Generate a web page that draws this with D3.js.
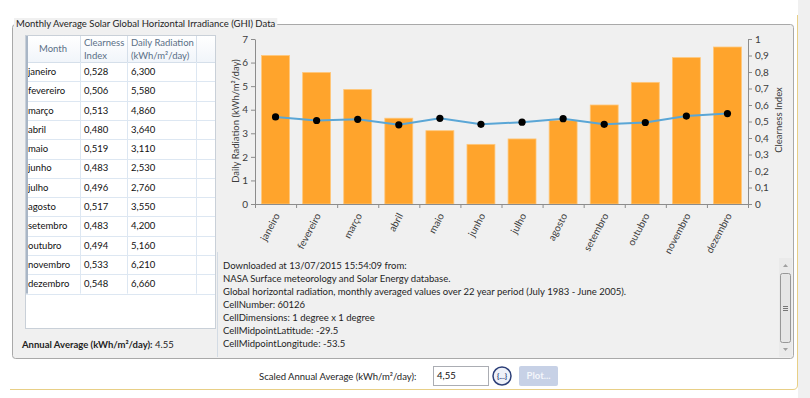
<!DOCTYPE html>
<html>
<head>
<meta charset="utf-8">
<script src="https://cdn.jsdelivr.net/npm/d3@7"></script>
<style>
  body { margin: 0; background: #ffffff; }
  svg { display: block; }
  text { font-family: Lato, "Noto Sans", sans-serif; }
</style>
</head>
<body>
<svg id="c" width="810" height="398"></svg>
<script>
// ---------- data ----------
const months = ["janeiro","fevereiro","março","abril","maio","junho","julho","agosto","setembro","outubro","novembro","dezembro"];
const clearness = [0.528,0.506,0.513,0.480,0.519,0.483,0.496,0.517,0.483,0.494,0.533,0.548];
const radiation = [6.300,5.580,4.860,3.640,3.110,2.530,2.760,3.550,4.200,5.160,6.210,6.660];
const leftTicks = [0,1,2,3,4,5,6,7];
const rightTicks = [0,0.1,0.2,0.3,0.4,0.5,0.6,0.7,0.8,0.9,1];
const infoLines = [
  "Downloaded at 13/07/2015 15:54:09 from:",
  "NASA Surface meteorology and Solar Energy database.",
  "Global horizontal radiation, monthly averaged values over 22 year period (July 1983 - June 2005).",
  "CellNumber: 60126",
  "CellDimensions: 1 degree x 1 degree",
  "CellMidpointLatitude: -29.5",
  "CellMidpointLongitude: -53.5"
];
const annualAverage = 4.55;
const titleText = "Monthly Average Solar Global Horizontal Irradiance (GHI) Data";

const FS = 9.5;
const loc = d3.formatLocale({decimal: ",", thousands: ".", grouping: [3], currency: ["", ""]});
const f3 = loc.format(".3f");
const f1 = loc.format(".1~f");

const svg = d3.select("#c");

// ---------- window frame ----------
svg.append("rect").attr("x", 798).attr("y", 0).attr("width", 12).attr("height", 398).attr("fill", "#f0f0f0");
svg.append("path")
  .attr("d", "M797.5,15 V385 Q797.5,389.5 793,389.5 H10")
  .attr("fill", "none").attr("stroke", "#e8cf86").attr("stroke-width", 1);

// group box
svg.append("rect").attr("x", 12.5).attr("y", 24.5).attr("width", 781).attr("height", 334)
  .attr("rx", 3).attr("fill", "#f0f0f0").attr("stroke", "#a9a9a9");
const title = svg.append("text").attr("x", 16).attr("y", 24).attr("dy", "0.35em")
  .attr("font-size", FS).attr("fill", "#1e1e1e").text(titleText);
const tw = title.node().getComputedTextLength();
svg.insert("rect", "text").attr("x", 14).attr("y", 18).attr("width", tw + 4).attr("height", 12).attr("fill", "#f0f0f0");

// ---------- table ----------
const hdrH = 26, rowH = 19.3;
const colX = [26, 80, 127, 196, 215];
svg.append("rect").attr("x", 25.5).attr("y", 35.5).attr("width", 190).attr("height", 293)
  .attr("fill", "#ffffff").attr("stroke", "#c9d0d8");
const hdrGrad = svg.append("defs").append("linearGradient").attr("id", "hg").attr("x1", 0).attr("x2", 0).attr("y1", 0).attr("y2", 1);
hdrGrad.append("stop").attr("offset", "0").attr("stop-color", "#ffffff");
hdrGrad.append("stop").attr("offset", "1").attr("stop-color", "#f1f5fa");
svg.append("rect").attr("x", 26).attr("y", 36).attr("width", 189).attr("height", hdrH).attr("fill", "url(#hg)");
svg.append("line").attr("x1", 26).attr("x2", 215).attr("y1", 62.5).attr("y2", 62.5).attr("stroke", "#d5dfea");
colX.slice(1, 4).forEach(cx => {
  svg.append("line").attr("x1", cx + 0.5).attr("x2", cx + 0.5).attr("y1", 36).attr("y2", 62)
    .attr("stroke", "#d5dfea");
});
const hdrColor = "#5a6f86";
svg.append("text").attr("x", 53).attr("y", 49).attr("dy", "0.35em").attr("text-anchor", "middle")
  .attr("font-size", FS).attr("fill", hdrColor).text("Month");
svg.append("text").attr("x", 84).attr("y", 43).attr("dy", "0.35em").attr("font-size", FS).attr("fill", hdrColor).text("Clearness");
svg.append("text").attr("x", 84).attr("y", 56).attr("dy", "0.35em").attr("font-size", FS).attr("fill", hdrColor).text("Index");
svg.append("text").attr("x", 131).attr("y", 43).attr("dy", "0.35em").attr("font-size", FS).attr("fill", hdrColor).text("Daily Radiation");
svg.append("text").attr("x", 131).attr("y", 56).attr("dy", "0.35em").attr("font-size", FS).attr("fill", hdrColor).text("(kWh/m²/day)");

const rows = svg.append("g");
months.forEach((m, i) => {
  const y0 = 62 + i * rowH;
  rows.append("line").attr("x1", 26).attr("x2", 215).attr("y1", Math.round(y0 + rowH) + 0.5).attr("y2", Math.round(y0 + rowH) + 0.5)
    .attr("stroke", "#dde7f2");
  rows.append("text").attr("x", 28).attr("y", y0 + rowH / 2).attr("dy", "0.35em").attr("font-size", FS).attr("fill", "#111").text(m);
  rows.append("text").attr("x", 84).attr("y", y0 + rowH / 2).attr("dy", "0.35em").attr("font-size", FS).attr("fill", "#111").text(f3(clearness[i]));
  rows.append("text").attr("x", 131).attr("y", y0 + rowH / 2).attr("dy", "0.35em").attr("font-size", FS).attr("fill", "#111").text(f3(radiation[i]));
});
const tableBottom = 62 + months.length * rowH;
colX.slice(1, 4).forEach(cx => {
  svg.append("line").attr("x1", cx + 0.5).attr("x2", cx + 0.5).attr("y1", 62).attr("y2", tableBottom)
    .attr("stroke", "#dde7f2");
});
svg.append("rect").attr("x", 26).attr("y", 36).attr("width", 2).attr("height", tableBottom - 36).attr("fill", "#a9b6c6");

const ann = svg.append("text").attr("x", 22).attr("y", 345).attr("dy", "0.35em").attr("font-size", FS).attr("fill", "#1e1e1e");
ann.append("tspan").attr("font-weight", "bold").text("Annual Average (kWh/m²/day):");
ann.append("tspan").text(" " + annualAverage);

// ---------- chart ----------
const x = d3.scaleBand().domain(months).range([255, 748]).paddingInner(0.32).paddingOuter(0.16);
const yL = d3.scaleLinear().domain([0, 7]).range([204, 39]);
const yR = d3.scaleLinear().domain([0, 1]).range([204, 39]);
const axisColor = "#8c8c8c", labColor = "#3c3c3c";

const chart = svg.append("g");
chart.selectAll("rect.bar").data(months).join("rect").attr("class", "bar")
  .attr("x", d => x(d)).attr("width", x.bandwidth())
  .attr("y", (d, i) => yL(radiation[i])).attr("height", (d, i) => yL(0) - yL(radiation[i]))
  .attr("fill", "#ffa42c").attr("stroke", "#ffc77a").attr("stroke-width", 0.8);

const line = d3.line().x((d, i) => x(months[i]) + x.bandwidth() / 2).y(d => yR(d));
chart.append("path").datum(clearness).attr("d", line).attr("fill", "none")
  .attr("stroke", "#5aa6d6").attr("stroke-width", 2);
chart.selectAll("circle").data(clearness).join("circle")
  .attr("cx", (d, i) => x(months[i]) + x.bandwidth() / 2).attr("cy", d => yR(d)).attr("r", 3.6).attr("fill", "#000");

function styleAxis(g) {
  g.selectAll(".domain").attr("stroke", axisColor);
  g.selectAll(".tick line").attr("stroke", axisColor);
  g.selectAll("text").attr("fill", labColor).attr("font-size", FS + 0.5).attr("font-family", "Lato, 'Noto Sans', sans-serif");
}
svg.append("g").attr("transform", "translate(255,0)")
  .call(d3.axisLeft(yL).tickValues(leftTicks).tickFormat(d3.format("d")).tickSize(4).tickSizeOuter(0).tickPadding(3))
  .call(styleAxis);
svg.append("g").attr("transform", "translate(748,0)")
  .call(d3.axisRight(yR).tickValues(rightTicks).tickFormat(f1).tickSize(4).tickSizeOuter(0).tickPadding(3))
  .call(styleAxis);
const xg = svg.append("g").attr("transform", "translate(0,204)")
  .call(d3.axisBottom(x).tickSize(0).tickSizeOuter(0))
  .call(styleAxis);
xg.selectAll(".tick text").attr("transform", "rotate(-62)").attr("text-anchor", "end")
  .attr("x", -8).attr("y", 6).attr("dy", "0.35em");
const bounds = d3.range(months.length + 1).map(i => x.range()[0] + i * x.step());
xg.selectAll("line.bt").data(bounds).join("line").attr("class", "bt")
  .attr("x1", d => d + 0.5).attr("x2", d => d + 0.5).attr("y1", 0).attr("y2", 4).attr("stroke", axisColor);

svg.append("text").attr("transform", "translate(236,121) rotate(-90)").attr("text-anchor", "middle").attr("dy", "0.35em")
  .attr("font-size", FS).attr("fill", labColor).text("Daily Radiation (kWh/m²/day)");
svg.append("text").attr("transform", "translate(779,120) rotate(-90)").attr("text-anchor", "middle").attr("dy", "0.35em")
  .attr("font-size", FS).attr("fill", labColor).text("Clearness Index");

// ---------- info text box ----------
svg.append("line").attr("x1", 217.5).attr("x2", 217.5).attr("y1", 252).attr("y2", 357).attr("stroke", "#d3dbe4");
const info = svg.append("g");
infoLines.forEach((s, i) => {
  info.append("text").attr("x", 223).attr("y", 266 + i * 13).attr("dy", "0.35em").attr("font-size", FS).attr("fill", "#1e1e1e").text(s);
});
svg.append("rect").attr("x", 779).attr("y", 258).attr("width", 13).attr("height", 99).attr("fill", "#eaeaea");
svg.append("path").attr("d", "M783,267 L785.5,264 L788,267 Z").attr("fill", "#a0a0a0");
svg.append("path").attr("d", "M783,348 L785.5,351 L788,348 Z").attr("fill", "#a0a0a0");
svg.append("rect").attr("x", 780.5).attr("y", 273.5).attr("width", 10).attr("height", 69).attr("rx", 2)
  .attr("fill", "#e6e6e6").attr("stroke", "#979797");
[-2, 0, 2].forEach(o => svg.append("line").attr("x1", 783).attr("x2", 788).attr("y1", 308.5 + o).attr("y2", 308.5 + o).attr("stroke", "#777"));

// ---------- bottom controls ----------
svg.append("text").attr("x", 259).attr("y", 377).attr("dy", "0.35em").attr("font-size", FS).attr("fill", "#1e1e1e")
  .text("Scaled Annual Average (kWh/m²/day):");
svg.append("rect").attr("x", 433.5).attr("y", 366.5).attr("width", 55).attr("height", 19).attr("fill", "#fff").attr("stroke", "#abadb3");
svg.append("text").attr("x", 437).attr("y", 376).attr("dy", "0.35em").attr("font-size", FS).attr("fill", "#111").text(loc.format(".2f")(annualAverage));
svg.append("circle").attr("cx", 502).attr("cy", 376).attr("r", 9).attr("fill", "#eef1f8").attr("stroke", "#2c3f78").attr("stroke-width", 1.5);
svg.append("text").attr("x", 502).attr("y", 376).attr("dy", "0.35em").attr("text-anchor", "middle").attr("font-size", 7.5)
  .attr("font-weight", "bold").attr("fill", "#2c3f78").text("{...}");
svg.append("rect").attr("x", 519).attr("y", 366).attr("width", 39).attr("height", 20).attr("rx", 2).attr("fill", "#c7d1e6");
svg.append("text").attr("x", 538.5).attr("y", 376).attr("dy", "0.35em").attr("text-anchor", "middle").attr("font-size", FS)
  .attr("font-weight", "bold").attr("fill", "#f4f6fb").text("Plot...");
</script>
</body>
</html>
